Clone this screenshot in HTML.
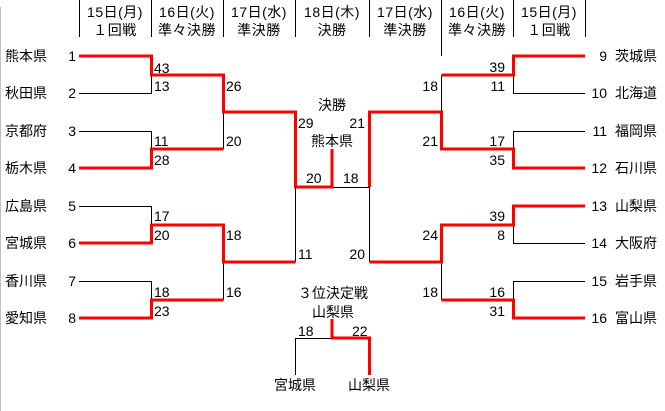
<!DOCTYPE html>
<html><head><meta charset="utf-8">
<style>
html,body{margin:0;padding:0;background:#fff;}
#w{position:relative;width:665px;height:411px;overflow:hidden;background:#fff;font-family:"Liberation Sans","Noto Sans CJK JP",sans-serif;font-size:14px;color:#000;}
.t{position:absolute;white-space:nowrap;line-height:16px;height:16px;}
.c{text-align:center;width:100px;}
.r{text-align:right;width:60px;}
.l{text-align:left;}
.h{letter-spacing:0.5px;}
svg{position:absolute;left:0;top:0;}
</style></head><body><div id="w">
<svg width="665" height="411" viewBox="0 0 665 411">
<line x1="0.5" y1="7" x2="0.5" y2="411" stroke="#c0c0c0" stroke-width="1"/>
<g stroke="#000" stroke-width="1" fill="none">
<line x1="79.5" y1="0" x2="79.5" y2="37"/>
<line x1="151.5" y1="0" x2="151.5" y2="37"/>
<line x1="223.5" y1="0" x2="223.5" y2="37"/>
<line x1="295.5" y1="0" x2="295.5" y2="37"/>
<line x1="369.5" y1="0" x2="369.5" y2="37"/>
<line x1="441.5" y1="0" x2="441.5" y2="56"/>
<line x1="513.5" y1="0" x2="513.5" y2="37"/>
<line x1="585.5" y1="0" x2="585.5" y2="37"/>
<!-- left black -->
<polyline points="79,93.5 151.5,93.5 151.5,75"/>
<polyline points="79,131.5 151.5,131.5 151.5,149"/>
<polyline points="223.5,149 223.5,112"/>
<polyline points="79,206.5 151.5,206.5 151.5,225"/>
<polyline points="79,281.5 151.5,281.5 151.5,300"/>
<polyline points="223.5,300 223.5,262"/>
<polyline points="295.5,262 295.5,187"/>
<polyline points="332,187.5 369.5,187.5"/>
<!-- right black -->
<polyline points="585,93.5 513.5,93.5 513.5,75"/>
<polyline points="441.5,75 441.5,112"/>
<polyline points="585,131.5 513.5,131.5 513.5,149"/>
<polyline points="585,243.5 513.5,243.5 513.5,225"/>
<polyline points="369.5,262 369.5,187"/>
<polyline points="585,281.5 513.5,281.5 513.5,300"/>
<polyline points="441.5,300 441.5,262"/>
<!-- third place -->
<polyline points="332,338.5 295.5,338.5 295.5,375"/>
</g>
<g stroke="#ff0000" stroke-width="3" fill="none" stroke-linejoin="miter">
<polyline points="79,56 151.5,56 151.5,75 223.5,75 223.5,112 295.5,112 295.5,187 332,187 332,149"/>
<polyline points="79,168 151.5,168 151.5,149 223.5,149"/>
<polyline points="79,243 151.5,243 151.5,225 223.5,225 223.5,262 295.5,262"/>
<polyline points="79,318 151.5,318 151.5,300 223.5,300"/>
<polyline points="585,56 513.5,56 513.5,75 441.5,75"/>
<polyline points="585,168 513.5,168 513.5,149 441.5,149 441.5,112 369.5,112 369.5,187"/>
<polyline points="585,206 513.5,206 513.5,225 441.5,225 441.5,262 369.5,262"/>
<polyline points="585,318 513.5,318 513.5,300 441.5,300"/>
<polyline points="332,319 332,338 369.5,338 369.5,375"/>
</g>
</svg>

<!-- header -->
<div class="t c h" style="left:65px;top:4px;">15日(月)</div>
<div class="t c h" style="left:65px;top:22px;">１回戦</div>
<div class="t c h" style="left:137px;top:4px;">16日(火)</div>
<div class="t c h" style="left:137px;top:22px;">準々決勝</div>
<div class="t c h" style="left:209px;top:4px;">17日(水)</div>
<div class="t c h" style="left:209px;top:22px;">準決勝</div>
<div class="t c h" style="left:282px;top:4px;">18日(木)</div>
<div class="t c h" style="left:282px;top:22px;">決勝</div>
<div class="t c h" style="left:355px;top:4px;">17日(水)</div>
<div class="t c h" style="left:355px;top:22px;">準決勝</div>
<div class="t c h" style="left:427px;top:4px;">16日(火)</div>
<div class="t c h" style="left:427px;top:22px;">準々決勝</div>
<div class="t c h" style="left:499px;top:4px;">15日(月)</div>
<div class="t c h" style="left:499px;top:22px;">１回戦</div>

<!-- left teams -->
<div class="t l" style="left:5px;top:48px;">熊本県</div><div class="t r" style="left:16px;top:48px;">1</div>
<div class="t l" style="left:5px;top:85px;">秋田県</div><div class="t r" style="left:16px;top:85px;">2</div>
<div class="t l" style="left:5px;top:123px;">京都府</div><div class="t r" style="left:16px;top:123px;">3</div>
<div class="t l" style="left:5px;top:160px;">栃木県</div><div class="t r" style="left:16px;top:160px;">4</div>
<div class="t l" style="left:5px;top:198px;">広島県</div><div class="t r" style="left:16px;top:198px;">5</div>
<div class="t l" style="left:5px;top:235px;">宮城県</div><div class="t r" style="left:16px;top:235px;">6</div>
<div class="t l" style="left:5px;top:273px;">香川県</div><div class="t r" style="left:16px;top:273px;">7</div>
<div class="t l" style="left:5px;top:310px;">愛知県</div><div class="t r" style="left:16px;top:310px;">8</div>

<!-- right teams -->
<div class="t r" style="left:547px;top:48px;">9</div><div class="t l" style="left:615px;top:48px;">茨城県</div>
<div class="t r" style="left:547px;top:85px;">10</div><div class="t l" style="left:615px;top:85px;">北海道</div>
<div class="t r" style="left:547px;top:123px;">11</div><div class="t l" style="left:615px;top:123px;">福岡県</div>
<div class="t r" style="left:547px;top:160px;">12</div><div class="t l" style="left:615px;top:160px;">石川県</div>
<div class="t r" style="left:547px;top:198px;">13</div><div class="t l" style="left:615px;top:198px;">山梨県</div>
<div class="t r" style="left:547px;top:235px;">14</div><div class="t l" style="left:615px;top:235px;">大阪府</div>
<div class="t r" style="left:547px;top:273px;">15</div><div class="t l" style="left:615px;top:273px;">岩手県</div>
<div class="t r" style="left:547px;top:310px;">16</div><div class="t l" style="left:615px;top:310px;">富山県</div>

<!-- left scores R1 -->
<div class="t l" style="left:154px;top:60px;">43</div>
<div class="t l" style="left:154px;top:78px;">13</div>
<div class="t l" style="left:154px;top:133px;">11</div>
<div class="t l" style="left:154px;top:152px;">28</div>
<div class="t l" style="left:154px;top:208px;">17</div>
<div class="t l" style="left:154px;top:227px;">20</div>
<div class="t l" style="left:154px;top:284px;">18</div>
<div class="t l" style="left:154px;top:303px;">23</div>
<!-- left QF -->
<div class="t l" style="left:226px;top:78px;">26</div>
<div class="t l" style="left:226px;top:133px;">20</div>
<div class="t l" style="left:226px;top:227px;">18</div>
<div class="t l" style="left:226px;top:284px;">16</div>
<!-- left semi -->
<div class="t l" style="left:298px;top:115px;">29</div>
<div class="t l" style="left:298px;top:246px;">11</div>

<!-- right R1 -->
<div class="t r" style="left:445px;top:59px;">39</div>
<div class="t r" style="left:445px;top:78px;">11</div>
<div class="t r" style="left:445px;top:133px;">17</div>
<div class="t r" style="left:445px;top:152px;">35</div>
<div class="t r" style="left:445px;top:208px;">39</div>
<div class="t r" style="left:445px;top:227px;">8</div>
<div class="t r" style="left:445px;top:284px;">16</div>
<div class="t r" style="left:445px;top:303px;">31</div>
<!-- right QF -->
<div class="t r" style="left:378px;top:78px;">18</div>
<div class="t r" style="left:378px;top:133px;">21</div>
<div class="t r" style="left:378px;top:227px;">24</div>
<div class="t r" style="left:378px;top:284px;">18</div>
<!-- right semi -->
<div class="t r" style="left:305px;top:115px;">21</div>
<div class="t r" style="left:305px;top:246px;">20</div>

<!-- final -->
<div class="t c" style="left:282px;top:97px;">決勝</div>
<div class="t c" style="left:282px;top:133px;">熊本県</div>
<div class="t l" style="left:306px;top:170px;">20</div>
<div class="t l" style="left:343px;top:170px;">18</div>

<!-- third place -->
<div class="t c" style="left:283px;top:285px;">３位決定戦</div>
<div class="t c" style="left:283px;top:304px;">山梨県</div>
<div class="t l" style="left:298px;top:323px;">18</div>
<div class="t l" style="left:352px;top:323px;">22</div>
<div class="t c" style="left:245px;top:377px;">宮城県</div>
<div class="t c" style="left:319px;top:377px;">山梨県</div>
</div></body></html>
